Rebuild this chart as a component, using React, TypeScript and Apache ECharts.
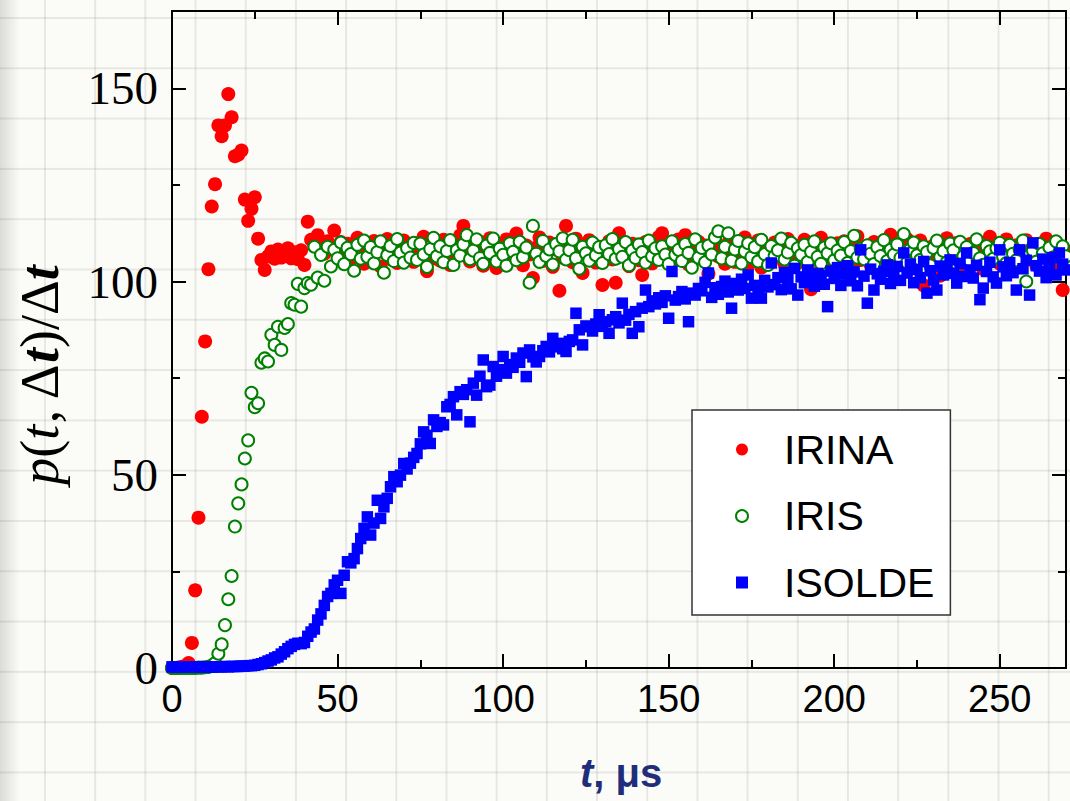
import React, { useEffect, useRef } from "react";
import * as echarts from "echarts";

// Time bins are 1 µs wide; sample i sits at t = i µs.
const TIME_STEP_US = 1;

const X_MIN = 0;
const X_MAX = 270;
const X_MAJOR = 50;
const X_MINOR = 25;
const Y_MIN = 0;
const Y_MAX = 170;
const Y_MAJOR = 50;
const Y_MINOR = 25;

const SERIES_NAMES = ["IRINA", "IRIS", "ISOLDE"];

// p(t, Δt)/Δt per time bin, IRINA
const irina = [
  0, 0, 0.1, 0.3, 0.5, 1.3, 6.5, 20.1, 38.9, 65.0,
  84.5, 103.2, 119.4, 125.2, 140.4, 137.6, 140.4, 148.5, 142.5, 132.4,
  132.8, 133.9, 121.2, 115.7, 118.8, 121.8, 111.1, 105.6, 103.0, 106.5,
  107.8, 105.9, 108.3, 106.2, 107.4, 108.6, 106.0, 107.6, 105.8, 108.1,
  104.3, 115.5, 110.8, 109.3, 112.0, 108.9, 107.2, 110.4, 108.6, 113.2,
  108.5, 110.2, 106.4, 109.8, 105.9, 108.1, 111.3, 107.2, 104.6, 109.4,
  106.8, 110.5, 108.0, 103.9, 107.6, 111.0, 105.8, 109.2, 104.8, 107.9,
  110.6, 106.3, 108.7, 105.1, 109.9, 107.4, 111.6, 102.7, 108.2, 106.0,
  109.5, 105.4, 110.8, 107.1, 104.3, 108.9, 106.6, 111.9, 114.4, 107.8,
  105.2, 109.1, 106.9, 110.3, 104.1, 108.4, 111.2, 106.1, 103.5, 109.6,
  107.3, 110.9, 105.6, 108.6, 112.4, 106.7, 104.2, 109.3, 107.0, 100.9,
  108.8, 111.4, 105.3, 107.7, 110.1, 103.8, 108.3, 97.6, 106.2, 114.4,
  109.7, 105.0, 111.1, 107.5, 102.2, 108.0, 110.7, 106.4, 104.9, 109.0,
  99.1, 107.2, 110.4, 105.7, 99.7, 112.5, 108.1, 106.8, 104.0, 109.8,
  107.6, 105.5, 101.7, 110.2, 108.5, 104.7, 107.9, 111.5, 112.5, 106.3,
  109.1, 105.2, 108.2, 110.9, 106.0, 112.0, 104.4, 108.7, 107.1, 110.3,
  105.8, 109.3, 102.0, 107.4, 111.2, 106.5, 108.9, 104.6, 110.0, 107.2,
  105.1, 109.6, 107.8, 111.4, 104.2, 108.3, 106.1, 110.6, 103.6, 108.8,
  107.0, 105.3, 110.1, 106.7, 109.4, 104.5, 111.0, 107.6, 105.9, 109.2,
  106.4, 110.8, 104.0, 98.0, 108.1, 106.9, 111.3, 105.0, 108.7, 107.3,
  104.8, 109.9, 106.2, 110.4, 107.7, 103.9, 108.5, 111.7, 105.6, 109.0,
  106.6, 104.3, 110.2, 107.9, 105.4, 109.5, 108.0, 112.1, 106.3, 104.7,
  109.8, 107.2, 111.0, 105.5, 108.4, 106.0, 110.6, 99.0, 107.6, 104.9,
  109.3, 106.8, 101.5, 108.9, 111.2, 105.2, 107.5, 110.0, 104.1, 108.6,
  106.3, 109.7, 105.0, 110.5, 107.1, 103.2, 108.8, 111.6, 106.5, 109.1,
  104.6, 108.2, 110.9, 106.1, 102.9, 109.4, 107.4, 105.3, 110.7, 106.9,
  108.5, 104.2, 109.8, 107.0, 111.1, 105.7, 108.3, 103.7, 106.4, 97.8,
  108.0,
];

// p(t, Δt)/Δt per time bin, IRIS
const iris = [
  0, 0, 0, 0, 0, 0, 0, 0, 0.1, 0.1,
  0.2, 0.3, 0.6, 1.3, 3.7, 6.1, 11.1, 17.8, 23.8, 36.6,
  42.6, 47.5, 54.2, 58.9, 71.2, 67.5, 68.5, 79.0, 80.1, 79.3,
  86.2, 83.6, 88.3, 82.3, 88.0, 89.0, 94.4, 94.0, 99.4, 93.5,
  98.3, 99.6, 99.2, 109.0, 101.0, 106.9, 100.2, 109.0, 103.9, 108.2,
  106.0, 110.1, 104.5, 108.7, 107.1, 102.8, 109.5, 105.9, 110.6, 106.4,
  108.9, 104.7, 107.6, 110.4, 102.3, 106.8, 109.2, 105.3, 111.0, 107.5,
  104.9, 108.6, 106.2, 110.0, 105.6, 109.8, 107.0, 103.8, 108.4, 111.3,
  106.5, 109.1, 105.0, 107.9, 110.7, 104.3, 108.1, 106.7, 109.6, 112.0,
  105.8, 108.0, 110.9, 106.1, 104.6, 109.3, 107.4, 111.1, 105.2, 108.5,
  106.9, 104.1, 109.9, 107.7, 105.5, 110.3, 106.3, 108.8, 99.7, 114.4,
  107.2, 105.1, 110.5, 106.6, 108.3, 104.4, 109.7, 107.8, 111.2, 105.7,
  108.1, 110.8, 106.0, 103.3, 109.0, 107.3, 105.4, 110.1, 106.8, 108.9,
  104.8, 109.4, 107.1, 111.0, 105.9, 108.4, 106.4, 110.2, 104.2, 108.0,
  106.1, 109.6, 107.6, 104.9, 110.6, 106.5, 108.6, 105.6, 109.1, 107.0,
  104.5, 110.4, 106.9, 108.2, 105.3, 109.7, 107.4, 103.6, 110.9, 106.2,
  108.7, 105.0, 109.3, 107.0, 111.4, 113.0, 106.0, 109.0, 112.5, 105.4,
  108.3, 110.5, 104.7, 107.8, 109.9, 106.3, 108.9, 105.2, 110.8, 107.1,
  104.3, 109.2, 106.6, 108.1, 111.1, 105.7, 107.5, 110.0, 104.1, 108.6,
  106.9, 109.5, 105.1, 107.7, 110.4, 106.4, 104.6, 108.8, 107.3, 109.9,
  105.5, 108.0, 106.7, 110.2, 104.8, 107.9, 111.8, 106.2, 108.5, 105.8,
  109.4, 107.2, 104.5, 108.9, 106.6, 110.7, 105.3, 108.2, 107.0, 109.6,
  106.1, 112.3, 104.9, 108.4, 110.1, 106.8, 105.6, 109.1, 107.6, 104.2,
  108.7, 110.6, 106.3, 107.9, 105.0, 109.8, 108.1, 104.6, 110.3, 106.5,
  108.9, 105.4, 107.4, 110.9, 106.0, 104.3, 109.2, 107.8, 105.9, 108.6,
  110.0, 106.4, 104.8, 109.5, 107.2, 105.5, 108.3, 110.6, 100.0, 106.9,
  108.0, 105.1, 109.7, 107.3, 104.4, 108.8, 106.2, 110.4, 107.5, 109.1,
  106.5,
];

// p(t, Δt)/Δt per time bin, ISOLDE
const isolde = [
  0.3, 0.2, 0.3, 0.2, 0.3, 0.3, 0.2, 0.3, 0.3, 0.2,
  0.3, 0.3, 0.2, 0.3, 0.3, 0.3, 0.4, 0.3, 0.4, 0.4,
  0.4, 0.5, 0.5, 0.6, 0.6, 0.7, 0.9, 1.1, 1.4, 1.8,
  2.1, 2.6, 2.9, 3.6, 4.2, 5.0, 5.6, 6.1, 6.4, 6.3,
  6.6, 8.2, 9.3, 10.1, 12.4, 14.0, 16.2, 18.5, 19.3, 21.5,
  22.7, 19.3, 24.0, 27.5, 27.2, 28.3, 30.9, 33.5, 36.1, 39.1,
  34.4, 37.5, 43.4, 38.7, 41.7, 43.9, 46.9, 49.5, 48.2, 49.9,
  52.9, 51.5, 53.0, 54.5, 55.5, 58.0, 61.1, 60.2, 58.1, 64.2,
  62.5, 63.5, 62.9, 67.6, 68.2, 70.2, 65.5, 71.5, 70.8, 72.0,
  63.7, 73.7, 70.6, 75.5, 79.7, 72.8, 73.2, 78.0, 75.5, 77.2,
  80.6, 76.3, 78.5, 77.8, 80.2, 79.1, 81.5, 75.4, 82.3, 80.5,
  79.2, 80.6, 82.1, 83.2, 81.8, 85.3, 83.1, 84.0, 82.6, 81.9,
  84.5, 84.9, 91.8, 87.5, 83.6, 88.5, 88.3, 87.2, 89.0, 91.4,
  88.4, 89.6, 86.6, 90.1, 90.9, 89.3, 94.4, 90.0, 91.5, 86.6,
  92.2, 88.3, 93.1, 97.8, 93.5, 95.0, 94.2, 95.8, 94.6, 96.3,
  90.5, 102.6, 95.2, 96.1, 97.4, 95.5, 89.6, 97.0, 96.5, 98.2,
  97.6, 99.8, 102.2, 95.9, 98.4, 96.7, 98.7, 100.1, 97.3, 93.1,
  99.5, 97.8, 100.6, 98.2, 101.7, 95.7, 99.0, 97.4, 95.7, 100.3,
  98.6, 104.8, 99.2, 101.0, 97.9, 102.3, 100.5, 98.1, 103.4, 96.5,
  101.2, 99.7, 103.0, 100.4, 98.8, 102.1, 101.5, 99.3, 93.5, 102.7,
  100.8, 103.6, 99.0, 101.9, 104.1, 100.2, 102.5, 98.9, 108.2, 101.4,
  94.4, 103.2, 97.8, 102.0, 100.6, 102.6, 104.3, 99.5, 101.8, 103.9,
  100.3, 107.4, 102.2, 104.5, 99.7, 103.1, 101.0, 105.2, 97.0, 102.8,
  100.4, 97.8, 104.0, 101.7, 103.5, 105.6, 102.1, 99.6, 104.7, 101.3,
  107.4, 103.0, 100.9, 104.2, 95.3, 98.3, 102.6, 105.0, 101.2, 99.6,
  108.2, 103.8, 101.5, 104.9, 102.3, 97.8, 108.2, 103.3, 105.5, 96.5,
  110.0, 104.1, 102.7, 105.8, 101.0, 103.6, 106.2, 101.7, 107.4, 104.5,
  103.0,
];

const toPoints = (values: number[]) => values.map((v, i) => [i * TIME_STEP_US, v]);

const PAGE_BACKGROUND: React.CSSProperties = {
  position: "absolute",
  left: 0,
  top: 0,
  width: 1070,
  height: 801,
  backgroundColor: "#fbfcf8",
  backgroundImage: [
    "linear-gradient(to right, rgba(0,0,0,0.13), rgba(0,0,0,0) 20px)",
    "linear-gradient(to right, rgba(140,140,130,0.18) 2px, transparent 2px)",
    "linear-gradient(to bottom, rgba(140,140,130,0.18) 2px, transparent 2px)",
  ].join(","),
  backgroundSize: "100% 100%, 50.2px 50.3px, 50.2px 50.3px",
  backgroundPosition: "0 0, 44px 0, 0 17px",
  backgroundRepeat: "no-repeat, repeat, repeat",
};

export default function App() {
  const ref = useRef<HTMLDivElement>(null);

  useEffect(() => {
    if (!ref.current) return;
    const chart = echarts.init(ref.current, null, { renderer: "svg" });

    const plotRect = { left: 172, top: 11, right: 4, bottom: 133, outerBoundsMode: "none" };
    const frameLine = { show: true, onZero: false, lineStyle: { color: "#000", width: 2 } };
    const noLine = { show: false, onZero: false };
    const majorTick = { show: true, inside: true, length: 14, lineStyle: { color: "#000", width: 2 } };
    const minorTick = { show: true, inside: true, length: 8, lineStyle: { color: "#000", width: 2 } };
    const off = { show: false };

    const serif = "Liberation Serif, Times New Roman, serif";
    const sans = "Liberation Sans, Arial, sans-serif";

    const xLabel = {
      show: true,
      fontFamily: sans,
      fontSize: 38,
      color: "#000",
      margin: 12,
      showMaxLabel: false,
    };
    const yLabel = {
      show: true,
      fontFamily: serif,
      fontSize: 47,
      color: "#000",
      margin: 14,
      showMaxLabel: false,
    };

    const xAxis = (gridIndex: number, position: string, interval: number, tick: any, label: any, lineOn: boolean) => ({
      type: "value",
      gridIndex,
      position,
      min: X_MIN,
      max: X_MAX,
      interval,
      axisLine: lineOn ? frameLine : noLine,
      axisTick: tick,
      axisLabel: label,
      splitLine: off,
      minorTick: off,
    });
    const yAxis = (gridIndex: number, position: string, interval: number, tick: any, label: any, lineOn: boolean) => ({
      type: "value",
      gridIndex,
      position,
      min: Y_MIN,
      max: Y_MAX,
      interval,
      axisLine: lineOn ? frameLine : noLine,
      axisTick: tick,
      axisLabel: label,
      splitLine: off,
      minorTick: off,
    });

    chart.setOption({
      animation: false,
      backgroundColor: "transparent",
      grid: [plotRect, plotRect],
      xAxis: [
        xAxis(0, "bottom", X_MAJOR, majorTick, xLabel, true),
        xAxis(0, "top", X_MAJOR, majorTick, off, true),
        xAxis(1, "bottom", X_MINOR, minorTick, off, false),
        xAxis(1, "top", X_MINOR, minorTick, off, false),
      ],
      yAxis: [
        yAxis(0, "left", Y_MAJOR, majorTick, yLabel, true),
        yAxis(0, "right", Y_MAJOR, majorTick, off, true),
        yAxis(1, "left", Y_MINOR, minorTick, off, false),
        yAxis(1, "right", Y_MINOR, minorTick, off, false),
      ],
      legend: {
        data: SERIES_NAMES,
        orient: "vertical",
        left: 692,
        top: 410,
        padding: [19, 16, 12, 43],
        itemWidth: 12,
        itemHeight: 12,
        itemGap: 25.5,
        backgroundColor: "#ffffff",
        borderColor: "#333333",
        borderWidth: 1.5,
        borderRadius: 0,
        selectedMode: false,
        textStyle: { fontFamily: sans, fontSize: 41, color: "#000", padding: [0, 0, 0, 31] },
      },
      graphic: [
        {
          type: "text",
          x: 40,
          y: 375,
          rotation: Math.PI / 2,
          silent: true,
          style: {
            text: "{i|p}{n|(}{i|t}{n|, Δ}{b|t}{n|)/Δ}{b|t}",
            align: "center",
            verticalAlign: "middle",
            rich: {
              i: { fontFamily: serif, fontSize: 54, fontStyle: "italic", fill: "#000" },
              n: { fontFamily: serif, fontSize: 54, fill: "#000" },
              b: { fontFamily: serif, fontSize: 54, fontStyle: "italic", fontWeight: "bold", fill: "#000" },
            },
          },
        },
        {
          type: "text",
          x: 621,
          y: 773,
          silent: true,
          style: {
            text: "{t|t}{u|, μs}",
            align: "center",
            verticalAlign: "middle",
            rich: {
              t: { fontFamily: sans, fontSize: 40, fontStyle: "italic", fontWeight: "bold", fill: "#1f2d7b" },
              u: { fontFamily: sans, fontSize: 40, fontWeight: "bold", fill: "#1f2d7b" },
            },
          },
        },
      ],
      series: [
        {
          name: SERIES_NAMES[0],
          type: "scatter",
          xAxisIndex: 0,
          yAxisIndex: 0,
          data: toPoints(irina),
          symbol: "circle",
          symbolSize: 14,
          itemStyle: { color: "#ff0000", opacity: 1 },
          silent: true,
          z: 2,
        },
        {
          name: SERIES_NAMES[1],
          type: "scatter",
          xAxisIndex: 0,
          yAxisIndex: 0,
          data: toPoints(iris),
          symbol: "circle",
          symbolSize: 12,
          itemStyle: { color: "#ffffff", borderColor: "#008000", borderWidth: 2, opacity: 1 },
          silent: true,
          z: 3,
        },
        {
          name: SERIES_NAMES[2],
          type: "scatter",
          xAxisIndex: 0,
          yAxisIndex: 0,
          data: toPoints(isolde),
          symbol: "rect",
          symbolSize: 11.5,
          itemStyle: { color: "#0000ff", opacity: 1 },
          silent: true,
          z: 4,
        },
      ],
    });

    return () => chart.dispose();
  }, []);

  return (
    <div style={PAGE_BACKGROUND}>
      <div ref={ref} style={{ width: 1070, height: 801 }} />
    </div>
  );
}
